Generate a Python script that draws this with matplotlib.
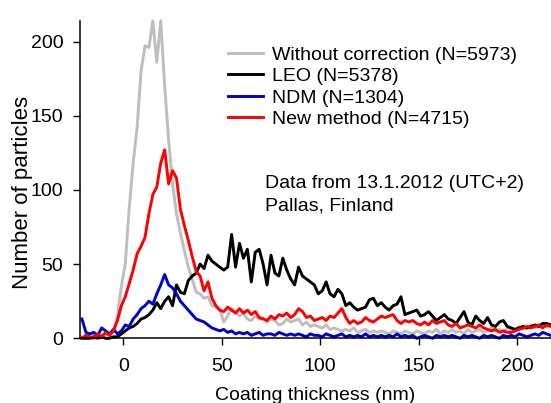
import matplotlib
matplotlib.use('Agg')
import matplotlib.pyplot as plt

# coating thickness bins (nm), 2 nm step
thickness = list(range(-21, 218, 2))

without_corr = [1, 0, 1, 2, 1, 2, 3, 2, 5, 15,
                35, 50, 88, 118, 142, 180, 197, 196, 214, 186,
                214, 170, 134, 104, 84, 71, 59, 48, 40, 31,
                30, 27, 28, 22, 21, 19, 11, 15, 20, 18,
                15, 17, 13, 12, 15, 13, 14, 11, 13, 12,
                9, 10, 13, 11, 12, 13, 9, 11, 8, 9,
                8, 7, 9, 6, 7, 6, 5, 6, 5, 7,
                4, 5, 6, 4, 5, 4, 5, 4, 3, 5,
                4, 3, 5, 4, 3, 5, 4, 3, 5, 4,
                6, 3, 5, 4, 6, 4, 5, 3, 6, 4,
                5, 6, 4, 5, 7, 5, 6, 4, 7, 5,
                6, 8, 6, 7, 9, 7, 8, 10, 8, 9]

leo = [0, 0, 0, 1, 0, 1, 0, 0, 1, 1,
       3, 5, 7, 8, 10, 13, 14, 16, 19, 24,
       20, 25, 28, 22, 36, 31, 30, 39, 42, 44,
       50, 47, 56, 52, 50, 48, 46, 48, 70, 48,
       64, 54, 60, 38, 58, 60, 50, 36, 56, 44,
       42, 54, 46, 40, 36, 48, 42, 40, 38, 36,
       30, 32, 38, 30, 28, 33, 30, 22, 24, 21,
       19, 20, 21, 26, 27, 22, 24, 21, 19, 22,
       23, 28, 16, 17, 18, 19, 15, 16, 18, 15,
       12, 14, 16, 13, 12, 10, 14, 18, 11, 9,
       15, 12, 10, 14, 9, 8, 11, 12, 8, 7,
       6, 7, 8, 7, 8, 9, 8, 10, 10, 9]

ndm = [13, 4, 3, 4, 2, 7, 5, 3, 6, 3,
       5, 9, 8, 13, 16, 20, 22, 25, 23, 30,
       36, 43, 36, 34, 30, 25, 22, 19, 16, 13,
       12, 11, 9, 7, 6, 5, 6, 4, 5, 3,
       4, 3, 4, 2, 3, 4, 2, 3, 3, 2,
       4, 3, 2, 3, 2, 3, 2, 1, 3, 2,
       2, 1, 3, 2, 1, 2, 3, 1, 2, 1,
       2, 1, 3, 1, 2, 1, 2, 1, 2, 1,
       3, 1, 2, 1, 2, 0, 1, 2, 1, 0,
       2, 1, 2, 1, 2, 1, 0, 2, 1, 2,
       1, 0, 2, 1, 2, 1, 0, 2, 1, 2,
       1, 3, 2, 1, 2, 3, 2, 4, 3, 2]

new_method = [0, 2, 1, 0, 3, 1, 4, 2, 5, 12,
              22, 28, 37, 46, 57, 62, 68, 84, 97, 102,
              118, 127, 104, 113, 108, 87, 76, 66, 55, 45,
              42, 32, 38, 27, 22, 19, 18, 21, 19, 17,
              20, 17, 19, 16, 18, 14, 13, 12, 15, 13,
              16, 15, 17, 14, 16, 20, 18, 14, 15, 12,
              13, 14, 12, 15, 14, 17, 20, 14, 10, 12,
              10, 11, 14, 12, 11, 13, 15, 14, 15, 16,
              12, 10, 12, 11, 12, 10, 9, 11, 9, 12,
              10, 11, 12, 9, 8, 10, 7, 8, 9, 8,
              7, 9, 7, 6, 5, 6, 4, 5, 4, 4,
              5, 6, 7, 8, 7, 8, 9, 7, 9, 8]

labels = ['Without correction (N=5973)', 'LEO (N=5378)',
          'NDM (N=1304)', 'New method (N=4715)']
colors = ['#bebebe', 'black', '#0000cc', 'red']

plt.rcParams['font.family'] = ['Liberation Sans', 'DejaVu Sans']

fig = plt.figure(figsize=(5.51, 4.03), dpi=100)
ax = fig.add_axes([0.1452, 0.1605, 0.8548, 0.788])

series = [without_corr, leo, ndm, new_method]
for vals, lab, col in zip(series, labels, colors):
    ax.plot(thickness, vals, color=col, linewidth=2.1, label=lab, clip_on=False)

ax.set_xlim(-22, 217.2)
ax.set_ylim(0, 214)
ax.set_xticks([0, 50, 100, 150, 200])
ax.set_yticks([0, 50, 100, 150, 200])

ax.spines['top'].set_visible(False)
ax.spines['right'].set_visible(False)
ax.spines['left'].set_linewidth(1.1)
ax.spines['bottom'].set_linewidth(1.1)
ax.tick_params(direction='out', length=5, width=1, labelsize=14)
ax.tick_params(axis='x', pad=9)
ax.tick_params(axis='y', pad=7)

ax.set_xlabel('Coating thickness (nm)', fontsize=14, labelpad=9)
ax.set_ylabel('Number of particles', fontsize=16)
ax.yaxis.set_label_coords(-0.10, 0.46)

ax.legend(loc='upper left', bbox_to_anchor=(228 / 551, 1 - 46 / 403),
          bbox_transform=fig.transFigure, frameon=False, fontsize=14,
          borderpad=0, borderaxespad=0, labelspacing=0.2,
          handlelength=1.79, handletextpad=0.46)

fig.text(265 / 551, 1 - 184 / 403, 'Data from 13.1.2012 (UTC+2)', fontsize=14, va='center')
fig.text(265 / 551, 1 - 206 / 403, 'Pallas, Finland', fontsize=14, va='center')

fig.savefig('out.png', dpi=100)
